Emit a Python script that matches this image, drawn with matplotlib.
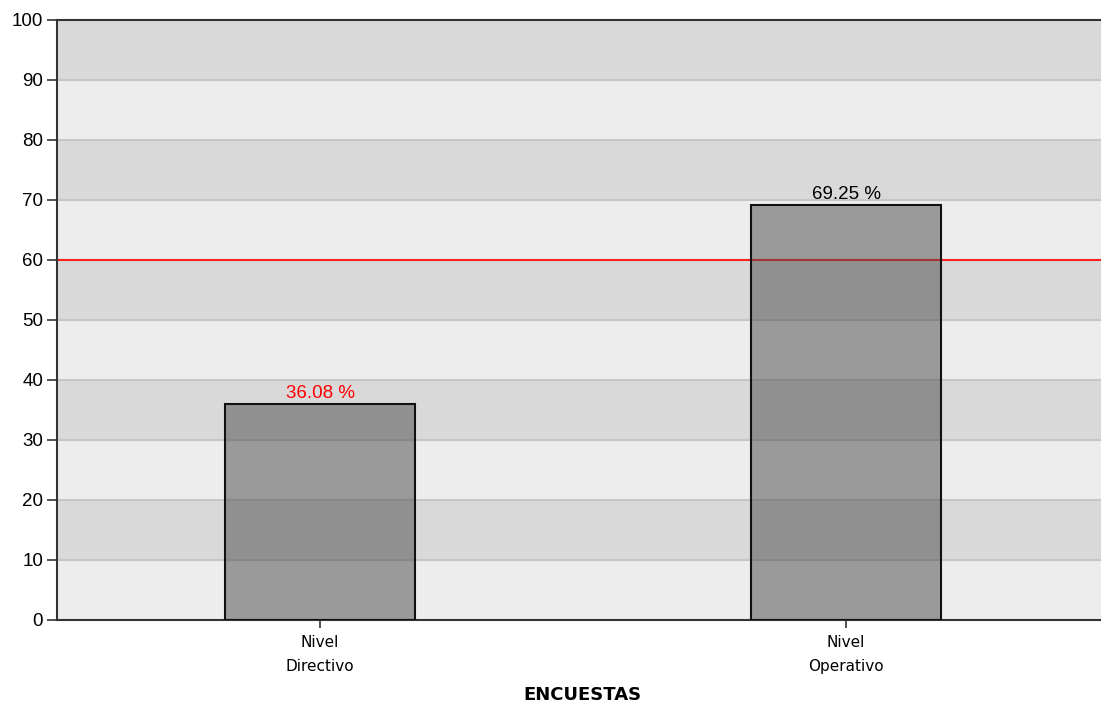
#!/usr/bin/env python3

import numpy as np
import matplotlib.pyplot as plt

categories = ["Nivel\nDirectivo", "Nivel\nOperativo"]
values = [36.08, 69.25]
label_colors = ["#ff0000", "#000000"]
target = 60
yticks = list(range(0, 101, 10))

def main():
    fig = plt.figure(figsize=(11.01, 7.07), dpi=100)
    W, H = 1101, 707
    # axes box in pixels: left 57, top 20, bottom 620, right past the figure edge
    ax = fig.add_axes([57 / W, (H - 620) / H, (1109 - 57) / W, 600 / H])

    x = np.arange(len(categories))
    ax.set_xlim(-0.5, 1.5)
    ax.set_ylim(0, 100)

    # alternating bands
    for i, lo in enumerate(yticks[:-1]):
        c = "#ededed" if i % 2 == 0 else "#d9d9d9"
        ax.axhspan(lo, lo + 10, color=c, zorder=0, lw=0)
    for t in yticks[1:-1]:
        ax.axhline(t, color="#c6c6c6", lw=1.5, zorder=1)

    ax.axhline(target, color="#ff2020", lw=1.5, zorder=2)

    bars = ax.bar(x, values, width=0.36, color="#494949", alpha=0.5,
                  edgecolor="none", zorder=3)
    ax.bar(x, values, width=0.36, facecolor="none", edgecolor="#111111",
           lw=1.5, zorder=4)

    for b, v, c in zip(bars, values, label_colors):
        ax.text(b.get_x() + b.get_width() / 2, v + 0.2, f"{v:.2f} %",
                ha="center", va="bottom", color=c, fontsize=13.5,
                family="Liberation Sans", zorder=5)

    ax.set_xticks(x)
    ax.set_xticklabels(categories, fontsize=11, family="DejaVu Sans Condensed",
                       linespacing=1.75)
    ax.set_yticks(yticks)
    ax.set_yticklabels([str(t) for t in yticks], fontsize=13.5, family="Liberation Sans")
    ax.tick_params(axis="y", length=7, width=1.2, color="#333333", pad=3)
    ax.tick_params(axis="x", length=6, width=1.2, color="#333333", pad=5)

    for s in ["left", "top", "bottom"]:
        ax.spines[s].set_color("#333333")
        ax.spines[s].set_linewidth(1.5)
    ax.spines["right"].set_visible(False)

    fig.text(582 / W, 1 - 695 / H, "ENCUESTAS", ha="center", va="center",
             fontsize=13, fontweight="bold", family="DejaVu Sans Condensed")

    fig.savefig("out.png", dpi=100)

if __name__ == "__main__":
    main()
